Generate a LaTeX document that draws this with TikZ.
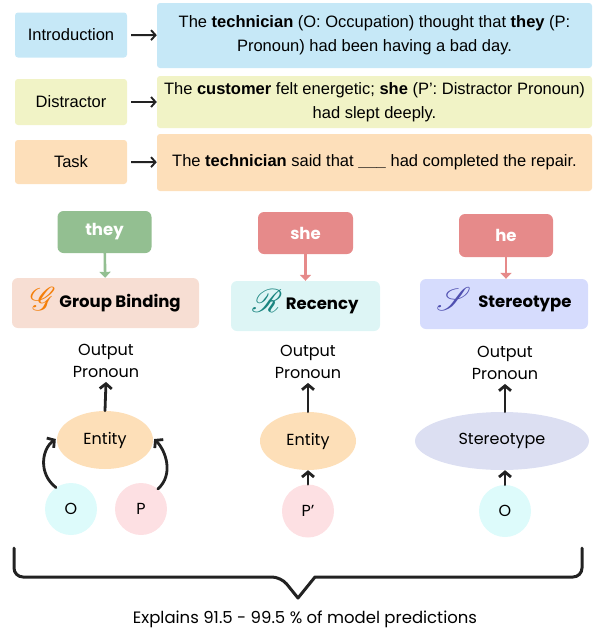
\documentclass[tikz,border=0pt]{standalone}
\usepackage{fontspec}
\usepackage{mathrsfs}
\usepackage{graphicx}
\setmainfont{Liberation Sans}
\newfontfamily\pop{Poppins}
\usetikzlibrary{arrows.meta,shapes.geometric}
\definecolor{cintro}{HTML}{C6E8F7}
\definecolor{cdist}{HTML}{F1F3C6}
\definecolor{ctask}{HTML}{FDDFBA}
\definecolor{cgreen}{HTML}{93BF91}
\definecolor{cred}{HTML}{E68A8A}
\definecolor{cgb}{HTML}{F7DED3}
\definecolor{crec}{HTML}{DDF5F5}
\definecolor{cster}{HTML}{D6DCFD}
\definecolor{cgor}{HTML}{F47F0A}
\definecolor{cteal}{HTML}{1A8580}
\definecolor{cblue}{HTML}{4F4FB0}
\definecolor{cent}{HTML}{FDDFB8}
\definecolor{ccyan}{HTML}{DDFBFB}
\definecolor{cpink}{HTML}{FDE0E3}
\definecolor{cstel}{HTML}{DCDFF2}
\definecolor{cdark}{HTML}{222222}
\newcommand{\calletter}[2]{\smash{\raisebox{-0.3ex}{\scalebox{1.9}{\color{#1}$\mathscr{#2}$}}}}
\begin{document}
\begin{tikzpicture}[x=1pt,y=-1pt,
  lab/.style={rounded corners=3pt, minimum width=112pt, inner sep=0pt, font=\fontsize{16.5}{20}\selectfont},
  sent/.style={rounded corners=3pt, minimum width=435pt, inner sep=0pt, align=center, font=\fontsize{16.5}{24}\selectfont},
  harr/.style={draw=cdark, line width=1.9pt, -{Straight Barb[length=4.5pt,width=10pt]}, shorten <=4pt},
  pbox/.style={rounded corners=6pt, inner sep=0pt, text=white, font=\pop\bfseries\fontsize{16.5}{20}\selectfont},
  mbox/.style={rounded corners=6pt, inner sep=0pt, font=\pop\bfseries\fontsize{16.5}{20}\selectfont},
  carr/.style={line width=2.6pt, -{Triangle[length=6pt,width=11pt]}},
  outp/.style={align=center, inner sep=0pt, font=\pop\fontsize{16}{22}\selectfont},
  ell/.style={ellipse, inner sep=0pt, font=\pop\fontsize{16}{20}\selectfont},
  barr/.style={draw=cdark, line width=2.8pt, line cap=round, -{Straight Barb[length=5pt,width=12pt]}}
]
\useasboundingbox (0,0) rectangle (594,633);
% top section
\node[lab, fill=cintro, minimum height=45pt] (intro) at (71,35) {Introduction};
\node[sent, fill=cintro, minimum height=65pt] (introt) at (374.5,35.5) {The \textbf{technician} (O: Occupation) thought that \textbf{they} (P:\\Pronoun) had been having a bad day.};
\node[lab, fill=cdist, minimum height=46pt] (dist) at (71,102) {Distractor};
\node[sent, fill=cdist, minimum height=52pt] (distt) at (374.5,102) {The \textbf{customer} felt energetic; \textbf{she} (P’: Distractor Pronoun)\\had slept deeply.};
\node[lab, fill=ctask, minimum height=44pt] (task) at (71,162) {Task};
\node[sent, fill=ctask, minimum height=57pt] (taskt) at (374.5,162.5) {The \textbf{technician} said that \textbf{\_\_\_} had completed the repair.};
\draw[harr] (intro) -- (introt);
\draw[harr] (dist) -- (distt);
\draw[harr] (task) -- (taskt);
% middle
\node[pbox, fill=cgreen, minimum width=94pt, minimum height=42pt] (they) at (104.5,232) {they};
\node[pbox, fill=cred, minimum width=95pt, minimum height=42pt] (she) at (305.5,233) {she};
\node[pbox, fill=cred, minimum width=94pt, minimum height=43pt] (he) at (506,235.5) {he};
\node[mbox, fill=cgb, minimum width=187pt, minimum height=50pt] (gb) at (105.5,303) {\calletter{cgor}{G}\ Group Binding};
\node[mbox, fill=crec, minimum width=149pt, minimum height=50pt] (rec) at (305.5,306) {\calletter{cteal}{R}\ Recency};
\node[mbox, fill=cster, minimum width=168pt, minimum height=50pt] (ster) at (504,304) {\calletter{cblue}{S}\ \ Stereotype};
\draw[carr, draw=cgreen, fill=cgreen] (they) -- (gb);
\draw[carr, draw=cred, fill=cred] (she) -- (rec);
\draw[carr, draw=cred, fill=cred] (he) -- (ster.north -| he);
% lower
\node[outp] (out1) at (106,361) {Output\\Pronoun};
\node[outp] (out2) at (308,362) {Output\\Pronoun};
\node[outp] (out3) at (505,363) {Output\\Pronoun};
\node[ell, fill=cent, minimum width=96pt, minimum height=58pt] (ent1) at (105,440) {Entity};
\node[ell, fill=cent, minimum width=96pt, minimum height=58pt] (ent2) at (308,441) {Entity};
\node[ell, fill=cstel, minimum width=174pt, minimum height=58pt] (st) at (502,441) {Stereotype};
\node[ell, fill=ccyan, minimum width=52pt, minimum height=52pt] (o1) at (71,509) {O};
\node[ell, fill=cpink, minimum width=52pt, minimum height=52pt] (p1) at (141,509) {P};
\node[ell, fill=cpink, minimum width=52pt, minimum height=53pt] (pp) at (308,511) {P’};
\node[ell, fill=ccyan, minimum width=52pt, minimum height=52pt] (o3) at (505,511) {O};
\draw[barr] (ent1.north) -- ([yshift=-4pt]out1.south);
\draw[barr] (ent2.north) -- ([yshift=-4pt]out2.south -| ent2.north);
\draw[barr] (st.north -| o3) -- ([yshift=-4pt]out3.south);
\draw[barr] (pp.north) -- (ent2.south);
\draw[barr] (o3.north) -- (st.south -| o3.north);
\draw[barr] (o1.125) .. controls +(-18,-14) and +(-14,10) .. ([xshift=-1pt,yshift=1pt]ent1.west);
\draw[barr] (p1.50) .. controls +(16,-14) and +(12,12) .. ([xshift=1pt,yshift=1pt]ent1.east);
% brace
\coordinate (bl) at (14,548);
\coordinate (br) at (582,548);
\coordinate (tip) at (298,598);
\draw[cdark, line width=3pt, line join=round, line cap=round, rounded corners=9pt]
  (bl) -- (14,577) -- (281,577) [sharp corners]-- (tip) -- (315,577) [rounded corners=9pt]-- (582,577) -- (br);
\node[inner sep=0pt, font=\pop\fontsize{16.5}{20}\selectfont] (expl) at (305,619) {Explains 91.5 - 99.5 \% of model predictions};
\end{tikzpicture}
\end{document}
